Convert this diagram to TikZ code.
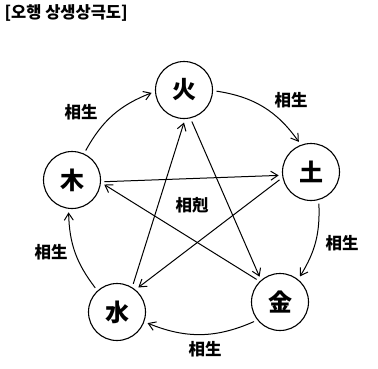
\documentclass[tikz,border=0pt]{standalone}
\usepackage{fontspec}
\newfontfamily\kor{Noto Sans CJK KR}
\usetikzlibrary{arrows.meta}

\begin{document}
\begin{tikzpicture}[
  x=1pt, y=-1pt,
  elem/.style={circle, draw, line width=1.1pt, minimum size=57pt, inner sep=0pt, outer sep=4pt, font=\kor\bfseries\fontsize{24}{24}\selectfont},
  lbl/.style={font=\kor\bfseries\fontsize{16.5}{16.5}\selectfont},
  arrow/.style={-{Straight Barb[length=7pt,width=9pt]}, line width=1pt}
]
\useasboundingbox (0,0) rectangle (378,368);

\node (title) [anchor=west, font=\kor\bfseries\fontsize{16.5}{16.5}\selectfont] at (1,13) {[오행 상생상극도]};

\node (huo) [elem] at (184,90) {火};
\node (tu) [elem] at (311,172) {土};
\node (jin) [elem] at (280,302) {金};
\node (shui) [elem] at (117,312) {水};
\node (mu) [elem] at (72,180) {木};

\node (sheng1) [lbl] at (81,112) {相生};
\node (sheng2) [lbl] at (291,100) {相生};
\node (sheng3) [lbl] at (342,243) {相生};
\node (sheng4) [lbl] at (205,349) {相生};
\node (sheng5) [lbl] at (51,252) {相生};
\node (ke) [lbl] at (192,205) {相剋};

% outer cycle
\draw [arrow] (mu.65) to[bend left=20] (huo.185);
\draw [arrow] (huo.-2) to[bend left=23] (tu.112);
\draw [arrow] (tu.-76) to[bend left=17] (jin.52);
\draw [arrow] (jin.217) to[bend left=23] (shui.-20);
\draw [arrow] (shui.132) to[bend left=18] (mu.-96);

% star
\draw [arrow] (mu.-3) -- (tu.186);
\draw [arrow] (tu.194) -- (shui.49);
\draw [arrow] (shui.60) -- (huo.-90);
\draw [arrow] (huo.-76) -- (jin.129);
\draw [arrow] (jin.136) -- (mu.-8);

\end{tikzpicture}
\end{document}
